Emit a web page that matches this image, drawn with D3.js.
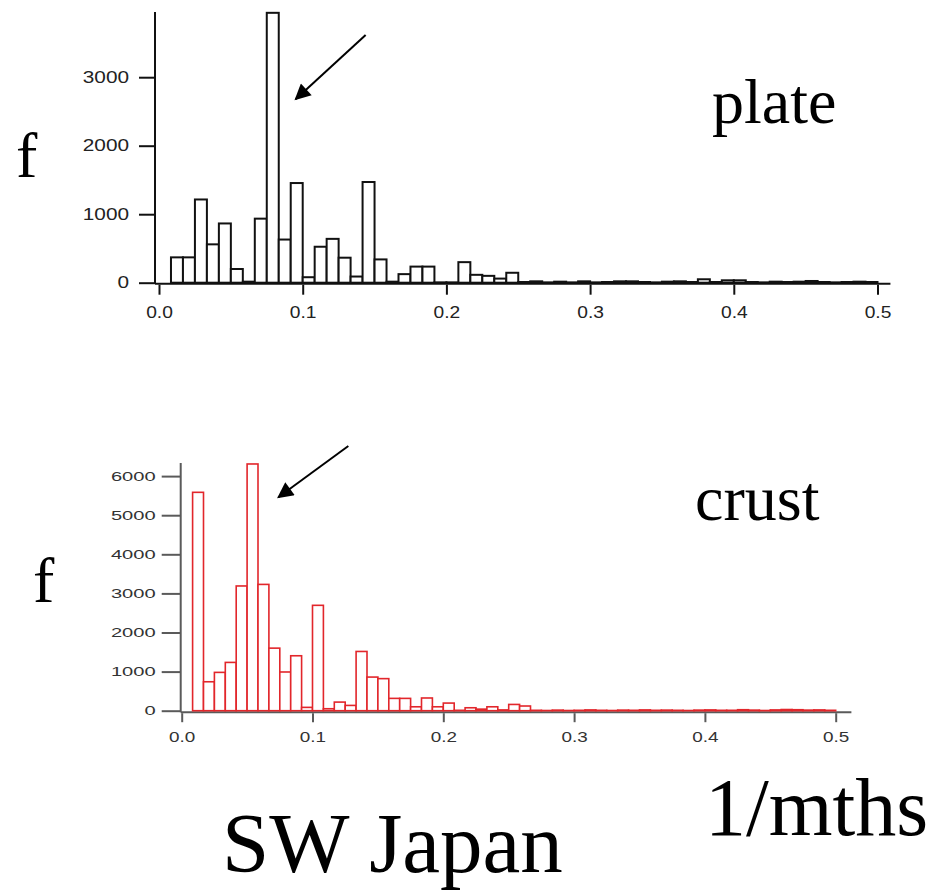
<!DOCTYPE html>
<meta charset="utf-8">
<style>
  body {
    margin: 0;
    background: #fff;
  }
  svg {
    display: block;
  }
  .tick text {
    font-family: "Liberation Sans", Arial, sans-serif;
  }
  .label {
    font-family: "Liberation Serif", "Times New Roman", serif;
    fill: #000;
  }
</style>

<body>
  <script src="https://cdn.jsdelivr.net/npm/d3@7/dist/d3.min.js"></script>
  <script>

    // histogram counts, bins of 1/120 per month from 0 to 0.5
    var binWidth = 1 / 120;

    var plateCounts = [
      0, 370, 370, 1215, 560, 865, 200, 15, 935, 3940,
      630, 1455, 80, 525, 640, 365, 90, 1470, 340, 15,
      125, 235, 235, 5, 5, 300, 115, 100, 60, 145,
      10, 20, 5, 15, 5, 20, 5, 10, 20, 20,
      10, 5, 15, 20, 10, 50, 10, 35, 35, 10,
      5, 15, 10, 15, 25, 10, 5, 10, 15, 10
    ];

    var crustCounts = [
      0, 5585, 740, 980, 1235, 3190, 6310, 3230, 1600, 990,
      1405, 85, 2695, 50, 220, 135, 1515, 860, 820, 315,
      315, 100, 325, 100, 195, 10, 75, 40, 100, 20,
      160, 120, 10, 5, 15, 5, 10, 20, 10, 5,
      15, 10, 20, 10, 15, 10, 5, 15, 20, 10,
      10, 25, 15, 5, 20, 30, 25, 15, 20, 10
    ];

    var xTicks = [0, 0.1, 0.2, 0.3, 0.4, 0.5];
    var plateYTicks = [0, 1000, 2000, 3000];
    var crustYTicks = [0, 1000, 2000, 3000, 4000, 5000, 6000];

    // arrows, in data units [x0, y0, x1, y1]
    var plateArrow = [0.1438, 3616, 0.0951, 2679];
    var crustArrow = [0.1274, 6770, 0.0739, 5458];

    var svg = d3.select("body").append("svg")
      .attr("width", 934)
      .attr("height", 891);

    var defs = svg.append("defs");
    defs.append("marker")
      .attr("id", "head")
      .attr("viewBox", "0 0 10 10")
      .attr("refX", 9)
      .attr("refY", 5)
      .attr("markerUnits", "userSpaceOnUse")
      .attr("markerWidth", 22)
      .attr("markerHeight", 16)
      .attr("orient", "auto")
      .append("path")
      .attr("d", "M0,0L10,5L0,10z")
      .attr("fill", "#000");

    function histogram(cfg) {
      var x = d3.scaleLinear().domain([0, 0.5]).range([cfg.x0, cfg.x1]);
      var y = d3.scaleLinear().domain([0, cfg.yMax]).range([cfg.base, cfg.top]);
      var g = svg.append("g");

      // horizontal axis line
      g.append("line")
        .attr("x1", cfg.yAxisX)
        .attr("x2", x(cfg.lineEnd))
        .attr("y1", cfg.base + cfg.lineGap)
        .attr("y2", cfg.base + cfg.lineGap)
        .attr("stroke", cfg.axisColor)
        .attr("stroke-width", 2);

      g.selectAll("rect.bar")
        .data(cfg.counts)
        .enter().append("rect")
        .attr("class", "bar")
        .attr("x", function(d, i) { return x(i * binWidth); })
        .attr("width", function(d, i) { return x((i + 1) * binWidth) - x(i * binWidth); })
        .attr("y", function(d) { return y(d); })
        .attr("height", function(d) { return cfg.base - y(d); })
        .attr("fill", "#fff")
        .attr("stroke", cfg.barColor)
        .attr("stroke-width", cfg.barStroke);

      // bottom axis
      var xa = g.append("g")
        .attr("transform", "translate(0," + (cfg.base + cfg.lineGap + 1) + ")")
        .call(d3.axisBottom(x).tickValues(xTicks).tickFormat(d3.format(".1f"))
          .tickSize(cfg.xTickLen).tickPadding(cfg.xPad));
      xa.select(".domain").remove();
      xa.selectAll("line").attr("stroke", cfg.axisColor).attr("stroke-width", 2);
      xa.selectAll("text")
        .attr("fill", cfg.textColor)
        .style("font-size", cfg.xFont + "px")
        .attr("transform", "scale(" + cfg.xStretch + ",1)");

      // left axis
      var ya = g.append("g")
        .attr("transform", "translate(" + cfg.yAxisX + ",0)")
        .call(d3.axisLeft(y).tickValues(cfg.yTicks).tickFormat(d3.format("d"))
          .tickSize(cfg.yTickLen).tickSizeOuter(0).tickPadding(cfg.yPad));
      ya.select(".domain")
        .attr("d", "M0," + y(cfg.yMax) + "V" + (cfg.base + cfg.lineGap))
        .attr("stroke", cfg.axisColor)
        .attr("stroke-width", 2);
      ya.selectAll("line").attr("stroke", cfg.axisColor).attr("stroke-width", 2);
      ya.selectAll("text")
        .attr("fill", cfg.textColor)
        .style("font-size", cfg.yFont + "px")
        .attr("x", -(cfg.yTickLen + cfg.yPad) / cfg.yStretch)
        .attr("transform", "scale(" + cfg.yStretch + ",1)");

      // arrow
      g.append("line")
        .attr("x1", x(cfg.arrow[0]))
        .attr("y1", y(cfg.arrow[1]))
        .attr("x2", x(cfg.arrow[2]))
        .attr("y2", y(cfg.arrow[3]))
        .attr("stroke", "#000")
        .attr("stroke-width", 2)
        .attr("marker-end", "url(#head)");
    }

    histogram({
      counts: plateCounts, yTicks: plateYTicks, arrow: plateArrow,
      x0: 159, x1: 877.5, base: 282.7, top: 12, yMax: 3952,
      yAxisX: 155, lineEnd: 0.509, lineGap: 1,
      barColor: "#111", barStroke: 2, axisColor: "#111", textColor: "#222",
      xTickLen: 10, xPad: 12, xFont: 16, xStretch: 1.2,
      yTickLen: 16, yPad: 10, yFont: 16, yStretch: 1.3
    });

    histogram({
      counts: crustCounts, yTicks: crustYTicks, arrow: crustArrow,
      x0: 181.7, x1: 835.7, base: 710.7, top: 463, yMax: 6335,
      yAxisX: 180.7, lineEnd: 0.512, lineGap: 1.5,
      barColor: "#e2262b", barStroke: 1.6, axisColor: "#5a5a5a", textColor: "#333",
      xTickLen: 9, xPad: 10, xFont: 14, xStretch: 1.35,
      yTickLen: 19, yPad: 6, yFont: 13, yStretch: 1.55
    });

    // slide labels
    var labels = [
      {text: "plate", x: 712, y: 123, size: 64},
      {text: "f", x: 16, y: 177, size: 64},
      {text: "crust", x: 695, y: 520, size: 64},
      {text: "f", x: 33, y: 602, size: 64},
      {text: "1/mths", x: 705, y: 835, size: 82},
      {text: "SW Japan", x: 222, y: 872, size: 85}
    ];

    svg.selectAll("text.label")
      .data(labels)
      .enter().append("text")
      .attr("class", "label")
      .attr("x", function(d) { return d.x; })
      .attr("y", function(d) { return d.y; })
      .style("font-size", function(d) { return d.size + "px"; })
      .text(function(d) { return d.text; });

  </script>
</body>
